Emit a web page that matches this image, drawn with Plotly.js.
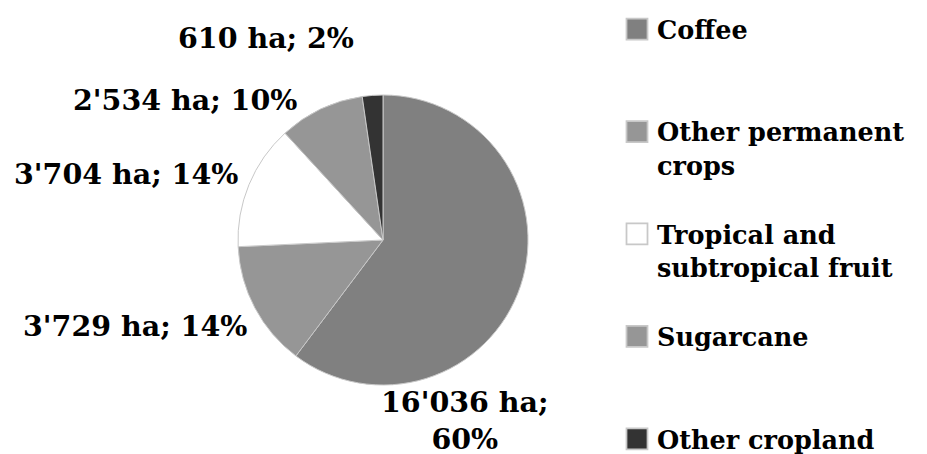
<!DOCTYPE html>
<html>
<head>
<meta charset="utf-8">
<script src="https://cdn.plot.ly/plotly-3.0.1.min.js"></script>
<style>html,body{margin:0;padding:0;background:#fff;}#chart{width:927px;height:454px;}</style>
</head>
<body>
<div id="chart"></div>
<script>
const categories = ["Coffee", "Other permanent crops", "Tropical and subtropical fruit", "Sugarcane", "Other cropland"];
const areaHa = [16036, 3729, 3704, 2534, 610];
const colors = ["#808080", "#969696", "#ffffff", "#969696", "#333333"];

// legend display names (line breaks and blank-line padding for spacing)
const legendNames = [
  "Coffee<br> <br> ",
  "Other permanent<br>crops<br> ",
  "Tropical and<br>subtropical fruit<br> ",
  "Sugarcane<br> <br> ",
  "Other cropland"
];

// data-label placement (layout only, pixel positions of label centres)
const labelPos = [[465, 420], [135, 326], [126, 174], [185, 100], [266, 38]];

const total = areaHa.reduce((a, b) => a + b, 0);
const fmt = v => String(v).replace(/\B(?=(\d{3})+(?!\d))/g, "'");
const labelText = areaHa.map((v, i) => fmt(v) + " ha;" + (i === 0 ? "<br>" : " ") + Math.round(v / total * 100) + "%");

const labelFont = {family: "DejaVu Serif", size: 28.5, color: "#000", weight: "bold"};
const legendFont = {family: "DejaVu Serif", size: 25.5, color: "#000", weight: "bold"};

const trace = {
  type: "pie",
  labels: legendNames,
  values: areaHa,
  sort: false,
  direction: "clockwise",
  rotation: 0,
  marker: {colors: colors, line: {color: "#c8c8c8", width: 1}},
  textinfo: "none",
  automargin: false,
  hoverinfo: "label+value+percent",
  domain: {x: [238/927, 528/927], y: [69/454, 359/454]}
};

const annotations = labelText.map((t, i) => ({
  text: t,
  xref: "paper", yref: "paper",
  x: labelPos[i][0] / 927, y: 1 - labelPos[i][1] / 454,
  xanchor: "center", yanchor: "middle",
  showarrow: false,
  align: "center",
  font: labelFont
}));

const layout = {
  width: 927, height: 454,
  margin: {l: 0, r: 0, t: 0, b: 0},
  paper_bgcolor: "#fff",
  plot_bgcolor: "#fff",
  font: legendFont,
  showlegend: true,
  annotations: annotations,
  legend: {x: 617/927, xanchor: "left", y: 1, yanchor: "top", valign: "top", font: legendFont, bgcolor: "rgba(0,0,0,0)"}
};

Plotly.newPlot("chart", [trace], layout, {displayModeBar: false, staticPlot: true}).then(function(gd){
  gd.querySelectorAll('.legend .legendpoints path').forEach(p => {
    p.setAttribute('transform', (p.getAttribute('transform') || '') + ' scale(1.75)');
  });
  const lg = gd.querySelector('g.legend');
  if (lg) lg.setAttribute('transform', (lg.getAttribute('transform') || '') + ' translate(0,6)');
});
</script>
</body>
</html>
